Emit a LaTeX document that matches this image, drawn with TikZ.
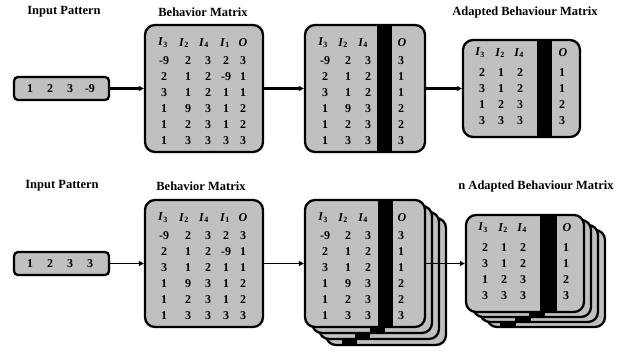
\documentclass[tikz,border=0pt]{standalone}
\usepackage{fontspec}
\setmainfont{Liberation Serif}
\usetikzlibrary{arrows.meta}
\definecolor{boxgray}{HTML}{C0C0C0}

\begin{document}
\begin{tikzpicture}[x=1pt, y=-1pt, >={Triangle[length=5pt,width=5pt]},
    font=\bfseries\fontsize{12}{13}\selectfont,
    mbox/.style={draw, line width=2.3pt, fill=boxgray, rounded corners=10pt, inner sep=0pt},
    ibox/.style={mbox, rounded corners=4pt},
    ttl/.style={font=\bfseries\fontsize{12.5}{14}\selectfont},
    link/.style={->, line width=2.2pt}]
  \useasboundingbox (0,0) rectangle (617,351);

  % titles
  \node[ttl] (t1) at (64,12) {Input Pattern};
  \node[ttl] (t2) at (203,12) {Behavior Matrix};
  \node[ttl] (t3) at (525,12) {Adapted Behaviour Matrix};
  \node[ttl] (t4) at (62,186) {Input Pattern};
  \node[ttl] (t5) at (201,186) {Behavior Matrix};
  \node[ttl] (t6) at (536,186) {n Adapted Behaviour Matrix};

  % ---- top row ----
  \node[ibox, minimum width=95pt, minimum height=23pt] (in1) at (61.5,88.5) {};
  \foreach \v [count=\k] in {1,2,3,-9}
    \node (in1-\k) at (10+20*\k,88.5) {\v};

  \node[mbox, minimum width=118pt, minimum height=127pt] (bm1) at (204,88.5) {};
  \foreach \h/\x [count=\k] in {3/163,2/184,4/204,1/225}
    \node (bm1-h\k) at (\x,43) {\textit{I}\textsubscript{\h}};
  \node (bm1-o) at (243,43) {\textit{O}};
  \foreach \va/\vb/\vc/\vd/\ve [count=\r] in {-9/2/3/2/3, 2/1/2/-9/1, 3/1/2/1/1, 1/9/3/1/2, 1/2/3/1/2, 1/3/3/3/3} {
    \node (bm1-\r a) at (164,45+16*\r) {\va};
    \node (bm1-\r b) at (188,45+16*\r) {\vb};
    \node (bm1-\r c) at (208,45+16*\r) {\vc};
    \node (bm1-\r d) at (226,45+16*\r) {\vd};
    \node (bm1-\r e) at (243,45+16*\r) {\ve};
  }

  \node[mbox, minimum width=120pt, minimum height=127pt] (bm2) at (365,88.5) {};
  \fill (377,25) rectangle (392,152);
  \foreach \h/\x [count=\k] in {3/323,2/343,4/363}
    \node (bm2-h\k) at (\x,43) {\textit{I}\textsubscript{\h}};
  \node (bm2-o) at (402,43) {\textit{O}};
  \foreach \va/\vb/\vc/\ve [count=\r] in {-9/2/3/3, 2/1/2/1, 3/1/2/1, 1/9/3/2, 1/2/3/2, 1/3/3/3} {
    \node (bm2-\r a) at (325,45+16*\r) {\va};
    \node (bm2-\r b) at (348,45+16*\r) {\vb};
    \node (bm2-\r c) at (368,45+16*\r) {\vc};
    \node (bm2-\r e) at (401,45+16*\r) {\ve};
  }

  \node[mbox, minimum width=117pt, minimum height=97pt] (am1) at (521.5,88.5) {};
  \fill (537,40) rectangle (552,137);
  \foreach \h/\x [count=\k] in {3/480,2/500,4/519}
    \node (am1-h\k) at (\x,53) {\textit{I}\textsubscript{\h}};
  \node (am1-o) at (563,53) {\textit{O}};
  \foreach \va/\vb/\vc/\ve [count=\r] in {2/1/2/1, 3/1/2/1, 1/2/3/2, 3/3/3/3} {
    \node (am1-\r a) at (482,57+16*\r) {\va};
    \node (am1-\r b) at (501,57+16*\r) {\vb};
    \node (am1-\r c) at (520,57+16*\r) {\vc};
    \node (am1-\r e) at (562,57+16*\r) {\ve};
  }

  \draw[link] (in1) -- (bm1);
  \draw[link] (bm1) -- (bm2);
  \draw[link] (bm2) -- (am1);

  % ---- bottom row ----
  \node[ibox, minimum width=95pt, minimum height=23pt] (in2) at (61.5,263.5) {};
  \foreach \v [count=\k] in {1,2,3,3}
    \node (in2-\k) at (10+20*\k,263.5) {\v};

  \node[mbox, minimum width=118pt, minimum height=127pt] (bm3) at (204,263.5) {};
  \foreach \h/\x [count=\k] in {3/163,2/184,4/204,1/225}
    \node (bm3-h\k) at (\x,218) {\textit{I}\textsubscript{\h}};
  \node (bm3-o) at (243,218) {\textit{O}};
  \foreach \va/\vb/\vc/\vd/\ve [count=\r] in {-9/2/3/2/3, 2/1/2/-9/1, 3/1/2/1/1, 1/9/3/1/2, 1/2/3/1/2, 1/3/3/3/3} {
    \node (bm3-\r a) at (164,220+16*\r) {\va};
    \node (bm3-\r b) at (188,220+16*\r) {\vb};
    \node (bm3-\r c) at (208,220+16*\r) {\vc};
    \node (bm3-\r d) at (226,220+16*\r) {\vd};
    \node (bm3-\r e) at (243,220+16*\r) {\ve};
  }

  % stack of behavior matrices
  \foreach \k/\bx in {3/342,2/355,1/370} {
    \node[mbox, minimum width=120pt, minimum height=127pt] (st\k) at (365+7*\k,263.5+6*\k) {};
    \fill (\bx,200+6*\k) rectangle (\bx+15,327+6*\k);
  }
  \node[mbox, minimum width=120pt, minimum height=127pt] (st0) at (365,263.5) {};
  \fill (378,200) rectangle (393,327);
  \foreach \h/\x [count=\k] in {3/323,2/343,4/363}
    \node (st0-h\k) at (\x,218) {\textit{I}\textsubscript{\h}};
  \node (st0-o) at (402,218) {\textit{O}};
  \foreach \va/\vb/\vc/\ve [count=\r] in {-9/2/3/3, 2/1/2/1, 3/1/2/1, 1/9/3/2, 1/2/3/2, 1/3/3/3} {
    \node (st0-\r a) at (325,220+16*\r) {\va};
    \node (st0-\r b) at (348,220+16*\r) {\vb};
    \node (st0-\r c) at (368,220+16*\r) {\vc};
    \node (st0-\r e) at (401,220+16*\r) {\ve};
  }

  % stack of adapted matrices
  \foreach \k/\bx in {3/500,2/515,1/529} {
    \node[mbox, minimum width=118pt, minimum height=97pt] (as\k) at (525+7*\k,263.5+5*\k) {};
    \fill (\bx,215+5*\k) rectangle (\bx+16,312+5*\k);
  }
  \node[mbox, minimum width=118pt, minimum height=97pt] (as0) at (525,263.5) {};
  \fill (540,215) rectangle (557,312);
  \foreach \h/\x [count=\k] in {3/483,2/503,4/522}
    \node (as0-h\k) at (\x,228) {\textit{I}\textsubscript{\h}};
  \node (as0-o) at (567,228) {\textit{O}};
  \foreach \va/\vb/\vc/\ve [count=\r] in {2/1/2/1, 3/1/2/1, 1/2/3/2, 3/3/3/3} {
    \node (as0-\r a) at (485,232+16*\r) {\va};
    \node (as0-\r b) at (504,232+16*\r) {\vb};
    \node (as0-\r c) at (523,232+16*\r) {\vc};
    \node (as0-\r e) at (566,232+16*\r) {\ve};
  }

  \draw[link, line width=1.7pt] (in2) -- (bm3);
  \draw[link, line width=1.7pt] (bm3) -- (st0);
  \draw[link, line width=1.4pt] (st0) -- (as0);
\end{tikzpicture}
\end{document}
